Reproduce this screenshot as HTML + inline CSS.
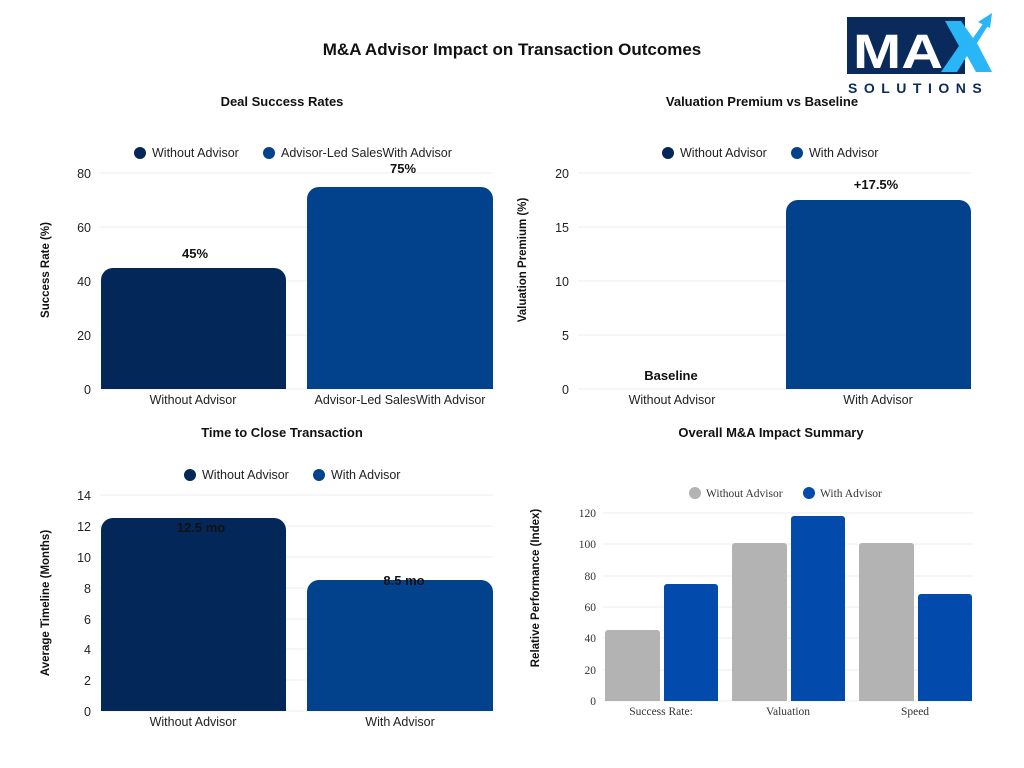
<!DOCTYPE html>
<html><head><meta charset="utf-8"><style>
html,body{margin:0;padding:0;background:#fff;}
svg{display:block;font-family:"Liberation Sans",sans-serif;}
.t{font-size:12.5px;fill:#222;}
.g{stroke:#ececec;stroke-width:1;}
.b{font-weight:bold;font-size:13px;fill:#111;}
.s{font-family:"Liberation Serif",serif;font-size:11.5px;fill:#333;}
</style></head><body>
<svg width="1024" height="768" viewBox="0 0 1024 768">
<rect width="1024" height="768" fill="#fff"/>
<text x="512" y="55" text-anchor="middle" font-weight="bold" font-size="17" fill="#111">M&amp;A Advisor Impact on Transaction Outcomes</text>

<!-- Logo -->
<rect x="847" y="17" width="118" height="57" fill="#0b2a5c"/>
<text x="853" y="68" font-weight="bold" font-size="48" fill="#fff" font-family="Liberation Sans" textLength="90" lengthAdjust="spacingAndGlyphs">MA</text>
<polygon points="945,21 961,21 973,38 985,21 991,21 977,43 992,72 976,72 967,56 957,72 941,72 959,46" fill="#29b6f6"/>
<polygon points="978,22 992,13 990,28" fill="#29b6f6"/>
<text x="848" y="93" font-weight="bold" font-size="14" fill="#0b2a5c" letter-spacing="6.5">SOLUTIONS</text>

<!-- Chart 1 -->
<text x="282" y="106" text-anchor="middle" class="b">Deal Success Rates</text>
<circle cx="140" cy="153" r="6" fill="#04275a"/><text x="152" y="157" class="t">Without Advisor</text>
<circle cx="269" cy="153" r="6" fill="#02428c"/><text x="281" y="157" class="t">Advisor-Led SalesWith Advisor</text>
<g class="g"><line x1="100" x2="493" y1="173" y2="173"/><line x1="100" x2="493" y1="227" y2="227"/><line x1="100" x2="493" y1="281" y2="281"/><line x1="100" x2="493" y1="335" y2="335"/><line x1="100" x2="493" y1="389" y2="389"/></g>
<g class="t" text-anchor="end"><text x="91" y="178">80</text><text x="91" y="232">60</text><text x="91" y="286">40</text><text x="91" y="340">20</text><text x="91" y="394">0</text></g>
<text transform="translate(49,270) rotate(-90)" text-anchor="middle" font-weight="bold" font-size="11.5" fill="#111">Success Rate (%)</text>
<path d="M101,389 V280 a12,12 0 0 1 12,-12 H274 a12,12 0 0 1 12,12 V389Z" fill="#04275a"/>
<path d="M307,389 V199 a12,12 0 0 1 12,-12 H481 a12,12 0 0 1 12,12 V389Z" fill="#02428c"/>
<text x="195" y="258" text-anchor="middle" class="b">45%</text>
<text x="403" y="173" text-anchor="middle" class="b">75%</text>
<text x="193" y="404" text-anchor="middle" class="t">Without Advisor</text>
<text x="400" y="404" text-anchor="middle" class="t">Advisor-Led SalesWith Advisor</text>

<!-- Chart 2 -->
<text x="762" y="106" text-anchor="middle" class="b">Valuation Premium vs Baseline</text>
<circle cx="668" cy="153" r="6" fill="#04275a"/><text x="680" y="157" class="t">Without Advisor</text>
<circle cx="797" cy="153" r="6" fill="#02428c"/><text x="809" y="157" class="t">With Advisor</text>
<g class="g"><line x1="578" x2="971" y1="173" y2="173"/><line x1="578" x2="971" y1="227" y2="227"/><line x1="578" x2="971" y1="281" y2="281"/><line x1="578" x2="971" y1="335" y2="335"/><line x1="578" x2="971" y1="389" y2="389"/></g>
<g class="t" text-anchor="end"><text x="569" y="178">20</text><text x="569" y="232">15</text><text x="569" y="286">10</text><text x="569" y="340">5</text><text x="569" y="394">0</text></g>
<text transform="translate(526,260) rotate(-90)" text-anchor="middle" font-weight="bold" font-size="11.5" fill="#111">Valuation Premium (%)</text>
<path d="M786,389 V212 a12,12 0 0 1 12,-12 H959 a12,12 0 0 1 12,12 V389Z" fill="#02428c"/>
<text x="671" y="380" text-anchor="middle" class="b">Baseline</text>
<text x="876" y="189" text-anchor="middle" class="b">+17.5%</text>
<text x="672" y="404" text-anchor="middle" class="t">Without Advisor</text>
<text x="878" y="404" text-anchor="middle" class="t">With Advisor</text>

<!-- Chart 3 -->
<text x="282" y="437" text-anchor="middle" class="b">Time to Close Transaction</text>
<circle cx="190" cy="475" r="6" fill="#04275a"/><text x="202" y="479" class="t">Without Advisor</text>
<circle cx="319" cy="475" r="6" fill="#02428c"/><text x="331" y="479" class="t">With Advisor</text>
<g class="g"><line x1="100" x2="493" y1="495" y2="495"/><line x1="100" x2="493" y1="526" y2="526"/><line x1="100" x2="493" y1="557" y2="557"/><line x1="100" x2="493" y1="588" y2="588"/><line x1="100" x2="493" y1="619" y2="619"/><line x1="100" x2="493" y1="649" y2="649"/><line x1="100" x2="493" y1="680" y2="680"/><line x1="100" x2="493" y1="711" y2="711"/></g>
<g class="t" text-anchor="end"><text x="91" y="500">14</text><text x="91" y="531">12</text><text x="91" y="562">10</text><text x="91" y="593">8</text><text x="91" y="624">6</text><text x="91" y="654">4</text><text x="91" y="685">2</text><text x="91" y="716">0</text></g>
<text transform="translate(49,603) rotate(-90)" text-anchor="middle" font-weight="bold" font-size="11.5" fill="#111">Average Timeline (Months)</text>
<path d="M101,711 V530 a12,12 0 0 1 12,-12 H274 a12,12 0 0 1 12,12 V711Z" fill="#04275a"/>
<path d="M307,711 V592 a12,12 0 0 1 12,-12 H481 a12,12 0 0 1 12,12 V711Z" fill="#02428c"/>
<text x="201" y="532" text-anchor="middle" class="b">12.5 mo</text>
<text x="404" y="585" text-anchor="middle" class="b">8.5 mo</text>
<text x="193" y="726" text-anchor="middle" class="t">Without Advisor</text>
<text x="400" y="726" text-anchor="middle" class="t">With Advisor</text>

<!-- Chart 4 -->
<text x="771" y="437" text-anchor="middle" class="b">Overall M&amp;A Impact Summary</text>
<circle cx="695" cy="493" r="6" fill="#b3b3b3"/><text x="706" y="497" class="s">Without Advisor</text>
<circle cx="809" cy="493" r="6" fill="#024bac"/><text x="820" y="497" class="s">With Advisor</text>
<g class="g"><line x1="603" x2="973" y1="513" y2="513"/><line x1="603" x2="973" y1="544" y2="544"/><line x1="603" x2="973" y1="576" y2="576"/><line x1="603" x2="973" y1="607" y2="607"/><line x1="603" x2="973" y1="638" y2="638"/><line x1="603" x2="973" y1="670" y2="670"/><line x1="603" x2="973" y1="701" y2="701"/></g>
<g class="s" text-anchor="end"><text x="596" y="517">120</text><text x="596" y="548">100</text><text x="596" y="580">80</text><text x="596" y="611">60</text><text x="596" y="642">40</text><text x="596" y="674">20</text><text x="596" y="705">0</text></g>
<text transform="translate(539,588) rotate(-90)" text-anchor="middle" font-weight="bold" font-size="11.5" fill="#111">Relative Performance (Index)</text>
<g fill="#b3b3b3">
<path d="M605,701 V633 a3,3 0 0 1 3,-3 H657 a3,3 0 0 1 3,3 V701Z"/>
<path d="M732,701 V546 a3,3 0 0 1 3,-3 H784 a3,3 0 0 1 3,3 V701Z"/>
<path d="M859,701 V546 a3,3 0 0 1 3,-3 H911 a3,3 0 0 1 3,3 V701Z"/>
</g>
<g fill="#024bac">
<path d="M664,701 V587 a3,3 0 0 1 3,-3 H715 a3,3 0 0 1 3,3 V701Z"/>
<path d="M791,701 V519 a3,3 0 0 1 3,-3 H842 a3,3 0 0 1 3,3 V701Z"/>
<path d="M918,701 V597 a3,3 0 0 1 3,-3 H969 a3,3 0 0 1 3,3 V701Z"/>
</g>
<text x="661" y="715" text-anchor="middle" class="s">Success Rate:</text>
<text x="788" y="715" text-anchor="middle" class="s">Valuation</text>
<text x="915" y="715" text-anchor="middle" class="s">Speed</text>
</svg>
</body></html>
